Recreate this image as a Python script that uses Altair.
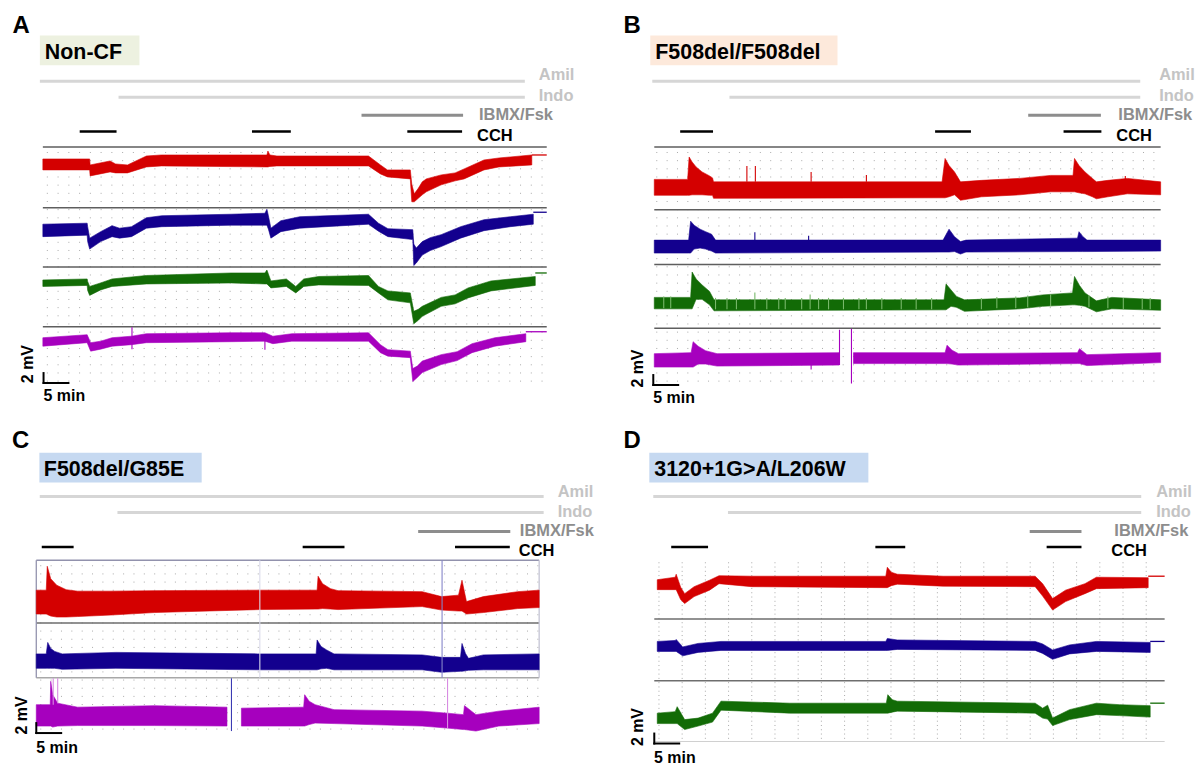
import altair as alt
import pandas as pd

FONT = "Liberation Sans"

# ---------------------------------------------------------------
# Traces: (time [min], upper envelope [mV], lower envelope [mV])
# mV = display offset, 0 = top edge of the panel's trace area.
# None = gap in the recording.
# ---------------------------------------------------------------
# Panel A  (Non-CF)
A_red = [(0.0,-2.4,-4.6),(9.4,-2.4,-4.6),(9.5,-3.6,-5.8),(13.5,-2.8,-5.0),(14.6,-3.4,-5.2),(17.0,-3.6,-5.2),
         (20.8,-1.8,-4.0),(23.8,-1.6,-3.8),(45.0,-1.6,-4.0),(45.2,-0.8,-4.0),(45.6,-1.6,-3.9),(47.0,-1.8,-3.8),
         (65.4,-1.8,-3.8),(67.8,-3.6,-5.4),(69.2,-4.6,-6.0),(73.8,-4.6,-6.4),(74.1,-7.5,-11.0),(74.6,-9.4,-11.0),
         (75.4,-8.3,-10.3),(76.2,-7.0,-9.6),(77.0,-6.4,-9.0),(80.0,-5.6,-7.6),(82.8,-5.2,-6.8),(84.6,-4.4,-6.4),
         (88.6,-2.6,-4.6),(91.6,-2.2,-4.0),(98.2,-1.6,-3.6)]
A_blue = [(0.0,-15.5,-18.0),(8.9,-15.3,-17.7),(9.0,-16.0,-19.0),(9.4,-18.3,-20.5),(11.6,-17.0,-19.0),
          (13.9,-15.8,-18.0),(15.4,-16.3,-18.3),(17.8,-16.0,-18.0),(20.8,-14.2,-16.3),(23.9,-13.8,-16.0),
          (37.8,-13.5,-15.7),(44.6,-13.3,-15.7),(45.0,-12.5,-15.7),(45.3,-13.8,-16.5),(45.8,-16.3,-18.3),
          (47.8,-14.8,-17.0),(51.6,-14.0,-16.3),(65.4,-13.5,-15.5),(67.4,-15.3,-16.9),(69.3,-16.4,-18.0),
          (74.3,-16.6,-18.6),(74.5,-19.5,-23.8),(75.0,-20.3,-23.3),(76.2,-19.0,-21.7),(77.8,-18.2,-20.8),
          (80.0,-17.6,-20.0),(83.9,-16.0,-18.3),(88.6,-14.6,-16.8),(93.9,-14.0,-16.0),(98.5,-13.5,-15.5)]
A_green = [(0.0,-26.7,-28.0),(8.9,-26.5,-27.8),(9.0,-27.0,-28.8),(9.4,-28.0,-29.8),(11.6,-27.3,-28.7),
           (13.9,-26.5,-28.0),(20.8,-25.8,-27.5),(37.8,-25.3,-27.3),(44.6,-25.3,-27.5),(45.0,-24.7,-27.5),
           (45.8,-26.9,-28.3),(48.9,-26.5,-28.0),(50.8,-28.0,-29.3),(52.4,-26.5,-28.0),(55.4,-26.0,-27.7),
           (65.4,-25.8,-27.8),(67.4,-28.0,-29.3),(69.3,-28.9,-30.7),(73.8,-29.3,-31.3),(74.5,-33.0,-35.5),
           (75.4,-32.6,-34.8),(76.2,-32.0,-34.0),(80.0,-30.2,-32.0),(82.8,-29.7,-31.5),(85.4,-28.3,-30.3),
           (90.0,-26.9,-28.9),(98.9,-26.0,-27.8)]
A_purple = [(0.0,-38.3,-40.0),(8.9,-37.7,-39.3),(9.6,-39.3,-41.0),(11.6,-39.0,-40.6),(13.9,-38.3,-40.0),
            (17.8,-38.0,-39.7),(20.8,-37.5,-39.3),(37.8,-37.3,-39.1),(44.6,-37.3,-39.0),(46.2,-38.0,-39.5),
            (50.0,-37.5,-39.0),(65.4,-37.3,-39.0),(67.8,-39.7,-41.3),(69.3,-40.7,-42.0),(73.8,-41.0,-42.3),
            (74.3,-44.5,-47.1),(75.2,-44.0,-46.3),(76.2,-43.0,-45.3),(80.0,-41.7,-43.7),(83.2,-41.1,-42.9),
            (86.2,-39.5,-41.3),(90.8,-38.3,-40.0),(97.0,-37.5,-39.1)]
A_tails = [("red",98.2,101.2,-1.6),("blue",98.5,101.2,-13.1),("green",98.9,101.2,-25.3),("purple",97.0,101.2,-37.1)]
A_spikes = [("purple",17.9,-36.2,-40.6),("purple",44.6,-38.0,-40.7)]
A_treat = [("Amil",-0.6,96.8),("Indo",15.2,96.8),("IBMX/Fsk",64.0,84.4),
           ("CCH",7.4,14.8),("CCH",42.0,49.8),("CCH",73.2,84.2)]

# Panel B  (F508del/F508del)
B_red = [(0.0,-6.5,-9.7),(6.7,-6.5,-9.7),(7.0,-2.0,-9.7),(7.6,-3.0,-9.6),(8.4,-4.0,-9.6),(9.6,-5.0,-9.6),
         (11.1,-5.8,-9.7),(11.7,-6.2,-9.7),(11.9,-7.0,-10.3),(57.8,-7.0,-10.2),(58.4,-2.3,-10.2),
         (59.2,-3.7,-10.0),(60.3,-5.0,-9.6),(61.5,-7.0,-10.7),(65.7,-6.7,-10.0),(73.4,-6.3,-9.6),
         (79.6,-5.7,-9.0),(84.1,-5.7,-9.0),(84.4,-2.3,-9.0),(85.3,-3.7,-9.2),(86.5,-5.0,-9.4),(88.0,-6.3,-10.0),
         (88.8,-7.0,-10.4),(91.1,-6.7,-10.0),(95.0,-6.3,-9.4),(101.7,-7.0,-9.6)]
B_blue = [(0.0,-18.7,-21.3),(6.9,-18.7,-21.3),(7.3,-14.9,-21.3),(8.0,-15.7,-20.5),(9.2,-16.5,-20.3),
          (10.3,-17.0,-20.5),(11.5,-17.5,-20.9),(12.3,-18.7,-21.3),(58.0,-18.7,-21.1),(59.2,-16.5,-21.1),
          (60.3,-18.0,-21.0),(61.5,-19.0,-21.5),(62.6,-18.7,-21.1),(85.0,-18.3,-21.0),(85.3,-17.0,-21.0),
          (86.0,-17.9,-21.0),(86.9,-18.7,-21.0),(101.7,-18.7,-20.9)]
B_green = [(0.0,-30.2,-32.5),(7.3,-30.2,-32.5),(7.6,-25.1,-32.5),(8.4,-26.5,-30.6),(9.6,-27.7,-30.6),
           (11.1,-29.0,-31.7),(12.0,-30.7,-32.9),(58.2,-30.7,-32.7),(58.6,-27.5,-32.7),(59.6,-28.7,-32.0),
           (60.7,-30.0,-32.2),(62.3,-30.7,-33.0),(73.4,-30.3,-32.5),(78.0,-29.7,-32.0),(84.0,-29.3,-31.7),
           (84.4,-26.0,-31.7),(85.4,-27.8,-31.8),(86.5,-29.3,-32.0),(88.8,-30.9,-33.1),(91.9,-30.2,-32.5),
           (101.7,-30.7,-32.8)]
B_purple = [(0.0,-41.5,-44.2),(7.4,-41.3,-44.2),(7.8,-39.1,-44.2),(8.8,-40.0,-43.6),(10.3,-40.9,-43.6),
            (12.6,-41.5,-44.0),(37.1,-41.3,-43.8), None,
            (40.0,-41.3,-43.5),(58.4,-41.3,-43.5),(58.8,-39.8,-43.5),(59.8,-40.8,-43.6),(61.1,-41.5,-43.8),
            (85.0,-41.3,-43.5),(85.4,-40.5,-43.5),(86.9,-41.7,-43.9),(101.7,-41.3,-43.3)]
B_tails = []
B_spikes = [("red",18.6,-3.8,-7.0),("red",20.3,-3.8,-7.0),("red",31.5,-5.0,-7.0),("red",42.6,-5.6,-7.0),
            ("red",94.6,-5.8,-6.6),("blue",20.2,-17.1,-18.7),("blue",31.0,-17.8,-18.7),
            ("purple",37.2,-36.7,-43.8),("purple",39.6,-36.5,-47.5),("purple",31.5,-43.8,-44.7),
            ("green tick",1.9,-30.0,-32.4),("green tick",3.3,-30.0,-32.4),("green tick",12.3,-30.3,-32.6),
            ("green tick",14.6,-30.3,-32.6),("green tick",16.5,-30.3,-32.6),("green tick",20.2,-29.2,-32.6),
            ("green tick",22.6,-30.3,-32.6),("green tick",25.0,-30.3,-32.6),("green tick",26.3,-30.3,-32.6),
            ("green tick",29.6,-30.3,-32.6),("green tick",31.3,-29.6,-32.6),("green tick",33.0,-30.3,-32.6),
            ("green tick",35.0,-30.3,-32.6),("green tick",38.0,-30.3,-32.6),("green tick",41.1,-30.3,-32.6),
            ("green tick",42.6,-30.3,-32.6),("green tick",45.7,-30.3,-32.6),("green tick",49.6,-30.3,-32.6),
            ("green tick",52.6,-30.3,-32.6),("green tick",55.7,-30.3,-32.6),("green tick",65.7,-30.3,-32.6),
            ("green tick",68.8,-30.1,-32.4),("green tick",72.6,-30.0,-32.4),("green tick",75.0,-29.8,-32.2),
            ("green tick",79.6,-29.6,-32.0),("green tick",87.3,-29.8,-32.2),("green tick",91.1,-30.0,-32.4),
            ("green tick",94.2,-30.3,-32.6),("green tick",98.0,-30.3,-32.6),("green tick",99.6,-30.3,-32.6)]
B_treat = [("Amil",-0.4,97.6),("Indo",15.1,97.6),("IBMX/Fsk",75.1,89.7),
           ("CCH",5.2,11.8),("CCH",56.4,63.6),("CCH",82.2,89.8)]

# Panel C  (F508del/G85E)
C_red = [(0.0,-6.0,-10.8),(2.0,-6.0,-10.8),(2.2,-1.2,-10.9),(2.9,-3.7,-11.2),(4.1,-5.0,-11.4),(6.0,-5.9,-11.4),
         (8.3,-6.2,-11.3),(15.0,-6.2,-11.0),(23.7,-6.1,-10.5),(44.8,-6.0,-9.9),(56.4,-6.0,-9.8),(56.6,-3.2,-9.8),
         (57.5,-4.7,-9.7),(59.1,-5.7,-9.8),(60.6,-6.1,-9.9),(77.5,-6.3,-9.3),(81.4,-7.3,-10.0),(84.8,-7.0,-10.2),
         (85.5,-4.0,-10.2),(86.4,-8.3,-10.8),(89.8,-7.3,-10.5),(96.7,-6.3,-9.7),(101.0,-6.0,-9.5)]
C_blue = [(0.0,-18.8,-21.7),(2.0,-18.8,-21.7),(2.3,-16.5,-21.7),(2.9,-17.7,-21.7),(3.7,-18.3,-21.7),
          (5.2,-18.8,-21.9),(16.0,-18.5,-21.7),(44.5,-18.8,-22.0),(56.2,-18.8,-22.0),(56.4,-16.0,-22.0),
          (57.2,-17.3,-21.8),(58.3,-18.0,-21.7),(59.8,-18.8,-22.0),(77.5,-19.0,-22.0),(81.4,-19.5,-22.5),
          (85.2,-19.5,-22.3),(85.5,-16.7,-22.3),(86.2,-18.7,-22.2),(86.8,-19.7,-22.1),(89.8,-19.0,-22.0),
          (101.0,-18.8,-22.0)]
C_purple = [(0.0,-29.0,-33.3),(2.8,-29.0,-33.3),(2.9,-24.3,-33.3),(3.3,-27.0,-33.5),(4.3,-28.7,-33.3),
            (8.3,-29.5,-33.2),(23.7,-29.2,-33.2),(38.3,-29.5,-33.3), None,
            (41.2,-29.7,-33.3),(53.7,-29.5,-33.3),(53.9,-27.0,-33.3),(54.8,-28.3,-33.0),(56.0,-29.0,-32.7),
            (59.8,-30.0,-32.8),(77.5,-30.3,-33.3),(82.5,-30.7,-33.7),(85.8,-31.0,-34.0),(86.0,-29.2,-34.0),
            (88.3,-31.0,-34.3),(92.9,-30.3,-33.3),(101.0,-29.5,-32.8)]
C_tails = []
C_spikes = [("purple tick",3.4,-23.7,-29.0),("purple tick",4.3,-23.7,-28.7),("purple tick",82.6,-23.7,-33.7),
            ("blue line",39.2,-23.7,-34.3),("lavender line",81.5,0.0,-23.6),("faint line",44.9,0.0,-23.6)]
C_treat = [("Amil",0.7,101.9),("Indo",16.3,101.9),("IBMX/Fsk",76.7,95.2),
           ("CCH",1.1,7.5),("CCH",53.5,61.9),("CCH",84.1,95.1)]

# Panel D  (3120+1G>A/L206W)
D_red = [(0.0,-3.5,-5.5),(3.6,-3.0,-5.5),(3.8,-2.4,-5.5),(4.7,-5.0,-7.5),(5.5,-6.3,-8.3),(7.4,-4.9,-6.9),
         (10.5,-3.6,-5.6),(12.4,-2.7,-4.3),(19.0,-2.8,-4.9),(45.9,-2.8,-5.1),(46.2,-1.0,-5.1),(47.0,-2.0,-4.7),
         (48.2,-2.4,-4.4),(57.4,-2.8,-4.8),(75.9,-2.8,-4.9),(77.4,-4.3,-6.8),(79.4,-7.3,-9.6),(82.0,-5.6,-7.9),
         (85.9,-4.3,-6.3),(88.2,-3.0,-5.3),(98.6,-3.1,-5.1)]
D_blue = [(0.0,-15.9,-17.9),(3.6,-15.7,-17.9),(3.8,-15.5,-17.9),(5.1,-17.0,-18.8),(8.2,-16.3,-18.1),
          (12.8,-15.9,-17.7),(45.9,-15.9,-17.7),(46.2,-15.3,-17.7),(48.2,-15.6,-17.5),(75.9,-15.9,-17.7),
          (77.4,-16.4,-18.3),(79.4,-17.6,-19.5),(82.8,-16.6,-18.4),(88.2,-15.9,-17.9),(99.0,-16.1,-18.1)]
D_green = [(0.0,-30.3,-32.4),(3.6,-30.0,-32.4),(4.0,-29.0,-32.4),(5.5,-31.6,-33.6),(8.2,-31.3,-32.9),
           (11.1,-30.3,-32.1),(12.8,-27.9,-29.7),(26.6,-28.3,-30.3),(46.0,-28.3,-30.3),(46.3,-26.6,-30.3),
           (47.2,-27.6,-30.1),(48.2,-27.9,-29.9),(75.9,-28.3,-30.3),(77.4,-29.3,-31.3),(78.4,-28.7,-31.5),
           (79.4,-31.3,-32.8),(82.8,-29.6,-31.6),(88.2,-28.3,-30.6),(92.8,-28.6,-30.8),(99.0,-28.8,-31.1)]
D_tails = [("red",98.6,101.9,-2.8),("blue",99.0,101.9,-15.9),("green",99.0,101.9,-28.3)]
D_spikes = []
D_treat = [("Amil",-0.8,97.2),("Indo",14.2,97.2),("IBMX/Fsk",74.8,85.2),
           ("CCH",2.8,10.2),("CCH",43.8,49.8),("CCH",78.2,85.2)]

# ---------------------------------------------------------------
# Styles
# ---------------------------------------------------------------
TRACE_COLORS = {"red": "#d40000", "blue": "#13008e", "green": "#126b06", "purple": "#a600be",
                "green tick": "#78b86a", "purple tick": "#d88ce2", "blue line": "#3b3bb3",
                "lavender line": "#8585c9", "faint line": "#dadaea"}
CSCALE = alt.Scale(domain=list(TRACE_COLORS.keys()), range=list(TRACE_COLORS.values()))
LANES = ["Amil", "Indo", "IBMX/Fsk", "CCH"]
LANE_LINE = {"Amil": ("#d6d6d6", 3), "Indo": ("#d6d6d6", 3), "IBMX/Fsk": ("#8d8d8d", 3), "CCH": ("#000000", 2.5)}
LANE_TEXT = {"Amil": "#c4c4c4", "Indo": "#c4c4c4", "IBMX/Fsk": "#8d8d8d", "CCH": "#000000"}


def band_frame(traces):
    rows = []
    for name, pts in traces:
        seg = 0
        for p in pts:
            if p is None:
                seg += 1
                continue
            rows.append({"trace": name, "seg": f"{name}-{seg}", "t": p[0], "hi": p[1], "lo": p[2]})
    return pd.DataFrame(rows)


ONE = pd.DataFrame({"k": [0]})


def panel(cfg):
    xs = alt.Scale(domain=cfg["xdom"], nice=False, zero=False)
    ys = alt.Scale(domain=cfg["ydom"], nice=False, zero=False)
    X = lambda f: alt.X(f, type="quantitative", scale=xs, axis=None)
    Y = lambda f: alt.Y(f, type="quantitative", scale=ys, axis=None)
    layers = []

    # dotted recording grid
    g0, gstep, gend = cfg["grid_x"]
    n = int((gend - g0) / gstep) + 1
    gdf = pd.DataFrame({"t": [g0 + i * gstep for i in range(n)],
                        "a": cfg["grid_y"][0], "b": cfg["grid_y"][1]})
    layers.append(alt.Chart(gdf).mark_rule(color="#a9a9a9", strokeWidth=1, strokeDash=cfg["grid_dash"])
                  .encode(x=X("t"), y=Y("a"), y2="b"))

    # row separators
    sdf = pd.DataFrame(cfg["seps"], columns=["y", "x1", "x2", "col", "w"])
    layers.append(alt.Chart(sdf).mark_rule()
                  .encode(x=X("x1"), x2="x2", y=Y("y"),
                          color=alt.Color("col:N", scale=None),
                          strokeWidth=alt.StrokeWidth("w:Q", scale=None)))
    if cfg.get("vlines"):
        vdf = pd.DataFrame(cfg["vlines"], columns=["t", "a", "b", "col"])
        layers.append(alt.Chart(vdf).mark_rule(strokeWidth=1.3)
                      .encode(x=X("t"), y=Y("a"), y2="b", color=alt.Color("col:N", scale=None)))

    # trace envelopes
    bdf = band_frame(cfg["traces"])
    layers.append(alt.Chart(bdf).mark_area(strokeWidth=0.6, opacity=1)
                  .encode(x=X("t"), y=Y("hi"), y2="lo", detail="seg:N",
                          color=alt.Color("trace:N", scale=CSCALE, legend=None),
                          stroke=alt.Stroke("trace:N", scale=CSCALE, legend=None)))
    if cfg["tails"]:
        tdf = pd.DataFrame(cfg["tails"], columns=["trace", "t1", "t2", "y"])
        layers.append(alt.Chart(tdf).mark_rule(strokeWidth=1.3)
                      .encode(x=X("t1"), x2="t2", y=Y("y"),
                              color=alt.Color("trace:N", scale=CSCALE, legend=None)))
    if cfg["spikes"]:
        kdf = pd.DataFrame(cfg["spikes"], columns=["trace", "t", "a", "b"])
        layers.append(alt.Chart(kdf).mark_rule(strokeWidth=1.1)
                      .encode(x=X("t"), y=Y("a"), y2="b",
                              color=alt.Color("trace:N", scale=CSCALE, legend=None)))

    # treatment bars and labels
    tr = pd.DataFrame(cfg["treat"], columns=["lane", "s", "e"])
    for i, lane in enumerate(LANES):
        col, w = LANE_LINE[lane]
        layers.append(alt.Chart(tr[tr.lane == lane]).mark_rule(color=col, strokeWidth=w, strokeCap="butt")
                      .encode(x=X("s"), x2="e", y=alt.value(cfg["lane_y"][i])))
        layers.append(alt.Chart(ONE).mark_text(text=lane, font=FONT, fontSize=16.5, fontWeight="bold",
                                               color=LANE_TEXT[lane], align="left", baseline="middle")
                      .encode(x=alt.value(cfg["label_x"][i]), y=alt.value(cfg["label_y"][i])))

    # panel letter and genotype title
    lx, ly = cfg["letter_xy"]
    layers.append(alt.Chart(ONE).mark_text(text=cfg["letter"], font=FONT, fontSize=24, fontWeight="bold",
                                           color="black", align="left", baseline="alphabetic")
                  .encode(x=alt.value(lx), y=alt.value(ly)))
    bx1, by1, bx2, by2 = cfg["box"]
    layers.append(alt.Chart(ONE).mark_rect(color=cfg["box_color"])
                  .encode(x=alt.value(bx1), x2=alt.value(bx2), y=alt.value(by1), y2=alt.value(by2)))
    tx, ty = cfg["title_xy"]
    layers.append(alt.Chart(ONE).mark_text(text=cfg["title"], font=FONT, fontSize=21.5, fontWeight="bold",
                                           color="black", align="left", baseline="alphabetic")
                  .encode(x=alt.value(tx), y=alt.value(ty)))

    # scale bar: 2 mV x 5 min
    c_t, c_y = cfg["bar_corner"]
    bar = pd.DataFrame({"x1": [c_t, c_t], "x2": [c_t, c_t + 5], "y1": [c_y + 2, c_y], "y2": [c_y, c_y]})
    layers.append(alt.Chart(bar).mark_rule(color="black", strokeWidth=2, strokeCap="square")
                  .encode(x=X("x1"), x2="x2", y=Y("y1"), y2="y2"))
    mx, my = cfg["mv_xy"]
    layers.append(alt.Chart(ONE).mark_text(text="2 mV", font=FONT, fontSize=16, fontWeight="bold",
                                           angle=270, align="center", baseline="middle", color="black")
                  .encode(x=alt.value(mx), y=alt.value(my)))
    nx, ny = cfg["min_xy"]
    layers.append(alt.Chart(ONE).mark_text(text="5 min", font=FONT, fontSize=16, fontWeight="bold",
                                           align="left", baseline="middle", color="black")
                  .encode(x=alt.value(nx), y=alt.value(ny)))

    return alt.layer(*layers).properties(width=cfg["w"], height=cfg["h"])


SEP_DARK = "#5e5e5e"
cfgA = dict(w=598, h=404, xdom=[-6.8, 112.8], ydom=[-53.4, 27.4],
            grid_x=(0.9, 2.16, 101.2), grid_y=(-1.0, -47.4), grid_dash=[1, 7.2],
            seps=[(0, 0, 101.2, SEP_DARK, 1.6), (-12.2, 0, 101.2, SEP_DARK, 1.6),
                  (-24.1, 0, 101.2, SEP_DARK, 1.6), (-36.1, 0, 101.2, SEP_DARK, 1.6)],
            traces=[("red", A_red), ("blue", A_blue), ("green", A_green), ("purple", A_purple)],
            tails=A_tails, spikes=A_spikes, treat=A_treat,
            lane_y=[71, 87, 105, 121.5], label_y=[64.7, 86, 104.5, 126], label_x=[532, 532, 472, 470],
            letter="A", letter_xy=(3.5, 22.7), title="Non-CF", box=(31, 25, 131, 55),
            box_color="#edf1e0", title_xy=(36, 48.7),
            bar_corner=(0.14, -47.4), mv_xy=(19.5, 355), min_xy=(34.7, 387))
cfgB = dict(w=590, h=404, xdom=[-10.0, 108.0], ydom=[-53.4, 27.4],
            grid_x=(0.5, 2.08, 101.7), grid_y=(-1.0, -47.6), grid_dash=[1, 7.2],
            seps=[(0, 0, 101.7, SEP_DARK, 1.6), (-12.6, 0, 101.7, SEP_DARK, 1.6),
                  (-23.6, 0, 101.7, SEP_DARK, 1.6), (-36.4, 0, 101.7, SEP_DARK, 1.6)],
            traces=[("red", B_red), ("blue", B_blue), ("green", B_green), ("purple", B_purple)],
            tails=B_tails, spikes=B_spikes, treat=B_treat,
            lane_y=[71, 87, 105, 121.5], label_y=[64.7, 86, 104.5, 126], label_x=[557, 557, 516, 514],
            letter="B", letter_xy=(19, 22.7), title="F508del/F508del", box=(46, 25, 234, 55),
            box_color="#fde9db", title_xy=(51, 48.7),
            bar_corner=(-0.2, -47.8), mv_xy=(33.2, 359.5), min_xy=(49, 389.5))
BOX = "#9292ad"
cfgC = dict(w=598, h=353, xdom=[-5.48, 114.12], ydom=[-41.0, 29.6],
            grid_x=(0.9, 2.08, 101.0), grid_y=(-1.0, -34.6), grid_dash=[1, 7.2],
            seps=[(0, 0, 101.0, BOX, 1.5), (-12.6, 0, 101.0, "#6e6e6e", 1.5), (-23.6, 0, 101.0, "#a8a8a8", 1.5)],
            vlines=[(0, 0, -23.6, BOX), (101.0, 0, -23.6, "#c4c4d4")],
            traces=[("red", C_red), ("blue", C_blue), ("purple", C_purple)],
            tails=C_tails, spikes=C_spikes, treat=C_treat,
            lane_y=[84, 100, 119, 134.7], label_y=[79, 99.5, 119, 139], label_x=[551, 551, 513, 512],
            letter="C", letter_xy=(3, 35.7), title="F508del/G85E", box=(30.5, 40, 193.5, 70),
            box_color="#c6d9f1", title_xy=(35, 63.7),
            bar_corner=(0.0, -34.7), mv_xy=(12.8, 303.8), min_xy=(27.4, 336.3))
cfgD = dict(w=590, h=353, xdom=[-10.6, 107.4], ydom=[-40.6, 30.0],
            grid_x=(0.34, 4.66, 101.9), grid_y=(0.0, -36.0), grid_dash=[1, 3.3],
            seps=[(-11.4, -0.6, 101.9, "#6e6e6e", 1.5), (-23.8, -0.6, 101.9, "#6e6e6e", 1.5),
                  (-36.0, -0.6, 101.9, "#d0d0d0", 1.2)],
            traces=[("red", D_red), ("blue", D_blue), ("green", D_green)],
            tails=D_tails, spikes=D_spikes, treat=D_treat,
            lane_y=[84, 100, 119, 134.7], label_y=[79, 99.5, 119, 139], label_x=[554, 554, 512, 509],
            letter="D", letter_xy=(19, 35.7), title="3120+1G>A/L206W", box=(45, 40, 265, 70),
            box_color="#c6d9f1", title_xy=(50, 63.7),
            bar_corner=(-0.6, -36.4), mv_xy=(34, 315.5), min_xy=(49.8, 346.3))

chart = (alt.concat(panel(cfgA), panel(cfgB), panel(cfgC), panel(cfgD),
                    columns=2, spacing=0, bounds="flush")
         .properties(padding=0, background="white")
         .configure_view(stroke="transparent"))

chart.save("out.html", embed_options={"renderer": "svg", "actions": False})
